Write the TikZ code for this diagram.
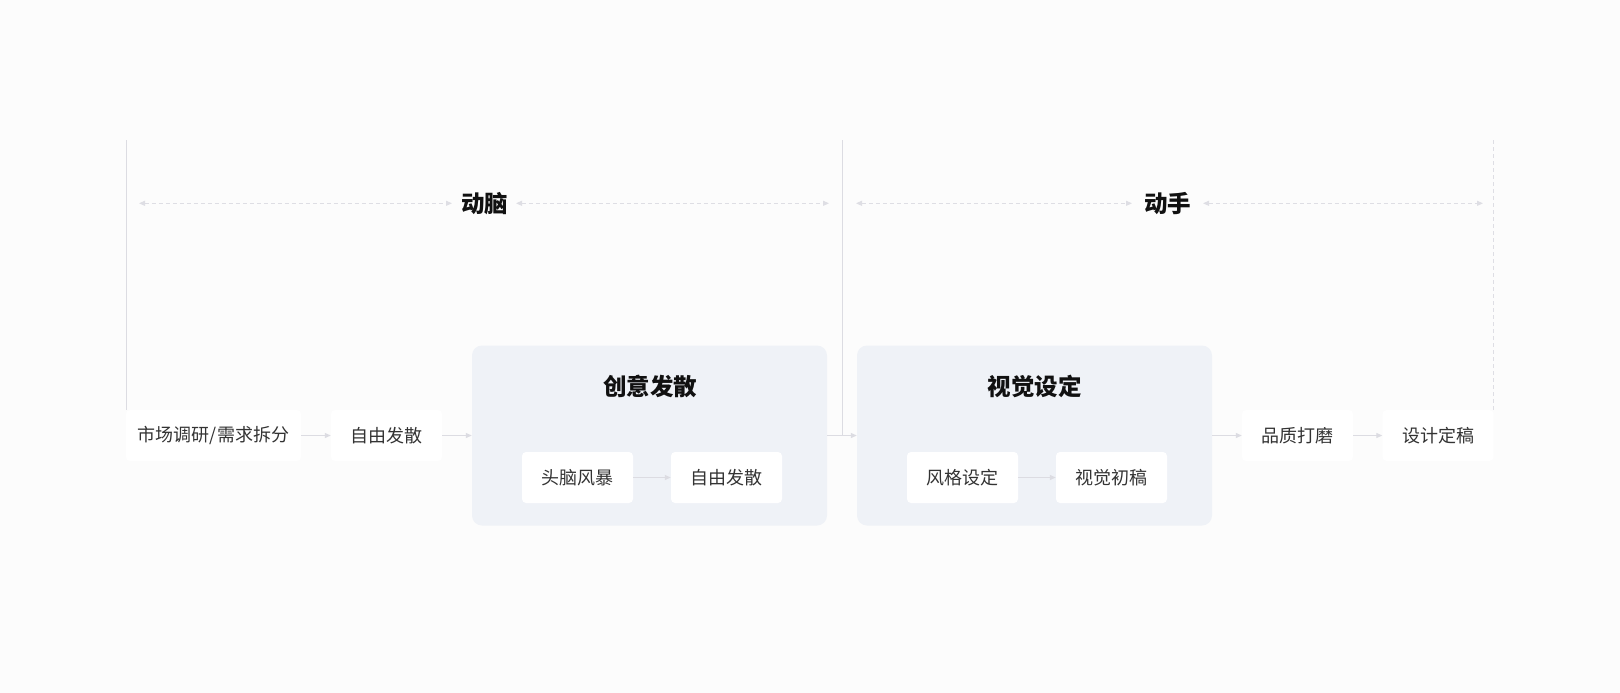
\documentclass[tikz,border=0pt]{standalone}
\usepackage{fontspec}
\setmainfont{Noto Sans CJK SC}
\usetikzlibrary{arrows.meta}
\definecolor{bgc}{HTML}{FCFCFC}
\definecolor{grpc}{HTML}{EFF2F7}
\definecolor{linec}{HTML}{DCDCE2}
\definecolor{dashc}{HTML}{DEDEE4}
\definecolor{txtc}{HTML}{333333}
\definecolor{ttlc}{HTML}{111111}
\tikzset{
  stepbox/.style={fill=white, rounded corners=4pt, minimum width=111pt, minimum height=51pt, inner sep=0pt, text=txtc, font=\fontsize{18pt}{21pt}\selectfont},
  groupbox/.style={fill=grpc, rounded corners=10pt, minimum width=355pt, minimum height=180pt, inner sep=0pt},
  grouptitle/.style={text=ttlc, font=\fontsize{23.5pt}{27pt}\selectfont\bfseries, inner sep=0pt},
  phasetitle/.style={text=ttlc, font=\fontsize{23.5pt}{27pt}\selectfont\bfseries, inner sep=0pt},
  flow/.style={draw=linec, line width=1pt, -{Triangle[length=6pt,width=5pt]}},
  span/.style={draw=dashc, line width=1pt, dash pattern=on 4pt off 3pt, {Triangle[length=6pt,width=5pt]}-{Triangle[length=6pt,width=5pt]}},
  divider/.style={draw=linec, line width=1pt},
  dashdivider/.style={draw=dashc, line width=1pt, dash pattern=on 4pt off 3pt},
}
\begin{document}
\begin{tikzpicture}[x=1pt,y=-1pt]
\path[fill=bgc] (0,0) rectangle (1620,693);
\useasboundingbox (0,0) rectangle (1620,693);

% groups
\node[groupbox] (g1) at (649.5,435.5) {};
\node[groupbox] (g2) at (1034.5,435.5) {};
\node[grouptitle] (g1t) at (650,386) {创意发散};
\node[grouptitle] (g2t) at (1034.5,386) {视觉设定};

% main row
\node[stepbox, minimum width=175pt] (a) at (213.5,435.5) {市场调研/需求拆分};
\node[stepbox] (b) at (386.5,435.5) {自由发散};
\node[stepbox] (c1) at (577.5,477.5) {头脑风暴};
\node[stepbox] (c2) at (726.5,477.5) {自由发散};
\node[stepbox] (d1) at (962.5,477.5) {风格设定};
\node[stepbox] (d2) at (1111.5,477.5) {视觉初稿};
\node[stepbox] (e) at (1297.5,435.5) {品质打磨};
\node[stepbox] (f) at (1438,435.5) {设计定稿};

% phase titles
\node[phasetitle] (p1) at (484.5,204) {动脑};
\node[phasetitle] (p2) at (1167.5,204) {动手};

% dividers
\coordinate (lt) at (126,140);
\coordinate (mt) at (842.7,140);
\coordinate (rt) at (1493.3,140);
\coordinate (mb) at (842.7,435.5);
\draw[divider] (lt) -- (lt |- a.north);
\draw[divider] (mt) -- (mb);
\draw[dashdivider] (rt) -- (rt |- f.north);

% span arrows
\coordinate (s1a) at (139,203.3);
\coordinate (s1b) at (452,203.3);
\coordinate (s1c) at (516,203.3);
\coordinate (s1d) at (829,203.3);
\coordinate (s2a) at (856,203.3);
\coordinate (s2b) at (1132,203.3);
\coordinate (s2c) at (1203,203.3);
\coordinate (s2d) at (1483,203.3);
\draw[span] (s1a) -- (s1b);
\draw[span] (s1c) -- (s1d);
\draw[span] (s2a) -- (s2b);
\draw[span] (s2c) -- (s2d);

% flow arrows
\draw[flow] (a.east) -- (b.west);
\draw[flow] (b.east) -- (b.east -| g1.west);
\draw[flow] (g1.east) -- (g2.west);
\draw[flow] (g2.east) -- (g2.east -| e.west);
\draw[flow] (e.east) -- (f.west);
\draw[flow] (c1.east) -- (c2.west);
\draw[flow] (d1.east) -- (d2.west);
\end{tikzpicture}
\end{document}
